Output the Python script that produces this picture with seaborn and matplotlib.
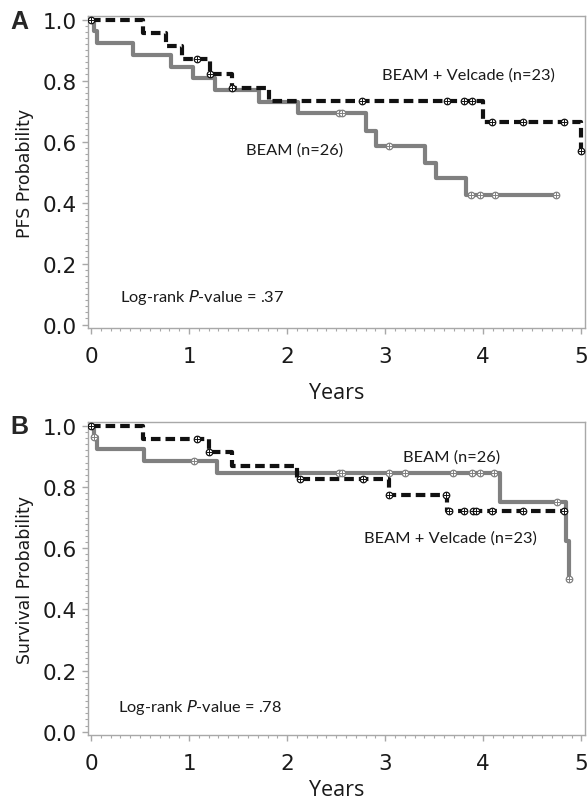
import matplotlib

matplotlib.use("Agg")
import matplotlib.pyplot as plt
import numpy as np
import pandas as pd
import seaborn as sns
from matplotlib.ticker import MultipleLocator

# Panel A: progression-free survival
pfs_beam_times = [0.0, 0.03, 0.06, 0.43, 0.82, 1.04, 1.26, 1.71, 2.11, 2.80, 2.91, 3.41, 3.52, 3.82, 4.74]
pfs_beam_surv = [1.0, 0.962, 0.923, 0.885, 0.846, 0.808, 0.769, 0.731, 0.692, 0.635, 0.587, 0.530, 0.479, 0.425, 0.425]
pfs_beam_censor = [2.53, 2.56, 3.04, 3.87, 3.97, 4.12, 4.74]

pfs_bv_times = [0.0, 0.53, 0.76, 0.93, 1.21, 1.44, 1.82, 4.00, 5.00]
pfs_bv_surv = [1.0, 0.957, 0.913, 0.870, 0.823, 0.777, 0.733, 0.665, 0.568]
pfs_bv_censor = [0.0, 1.08, 1.21, 1.44, 2.76, 3.63, 3.80, 3.89, 4.09, 4.41, 4.82, 5.00]

# Panel B: overall survival
os_beam_times = [0.0, 0.03, 0.06, 0.54, 1.28, 4.17, 4.84, 4.87]
os_beam_surv = [1.0, 0.962, 0.923, 0.885, 0.846, 0.750, 0.625, 0.500]
os_beam_censor = [0.03, 1.05, 2.53, 2.56, 3.04, 3.20, 3.69, 3.89, 3.97, 4.11, 4.75, 4.87]

os_bv_times = [0.0, 0.53, 1.20, 1.44, 2.10, 3.04, 3.63, 4.82]
os_bv_surv = [1.0, 0.957, 0.913, 0.870, 0.826, 0.774, 0.722, 0.722]
os_bv_censor = [0.0, 1.08, 1.20, 2.13, 2.77, 3.04, 3.62, 3.65, 3.80, 3.90, 3.93, 4.09, 4.41, 4.82]

x_ticks = [0, 1, 2, 3, 4, 5]
y_ticks = [0.0, 0.2, 0.4, 0.6, 0.8, 1.0]

GRAY = "#808080"
BLACK = "#111111"
SPINE = "#a8a8a8"
TEXT = "#1a1a1a"


def step_at(times, surv, t):
    idx = np.searchsorted(times, t, side="right") - 1
    return surv[max(idx, 0)]


def draw_curve(ax, times, surv, censor, color, dashed):
    df = pd.DataFrame({"t": times, "s": surv})
    style = (0, (2.3, 1.2)) if dashed else "-"
    sns.lineplot(
        data=df, x="t", y="s", ax=ax, color=color, linewidth=3.0,
        linestyle=style, drawstyle="steps-post", estimator=None, sort=False,
        zorder=3,
    )
    cdf = pd.DataFrame({"t": censor, "s": [step_at(times, surv, c) for c in censor]})
    sns.scatterplot(
        data=cdf, x="t", y="s", ax=ax, marker="o", s=22, facecolor="white",
        edgecolor=color, linewidth=0.9, zorder=4,
    )
    sns.scatterplot(
        data=cdf, x="t", y="s", ax=ax, marker="+", s=14, color=color,
        linewidth=0.7, zorder=5,
    )


def style_axes(ax, ylabel, xlabel_pad):
    ax.set_xlim(-0.03, 5.04)
    ax.set_ylim(-0.012, 1.012)
    ax.set_xticks(x_ticks)
    ax.set_yticks(y_ticks)
    ax.set_yticklabels([f"{v:.1f}" for v in y_ticks])
    ax.xaxis.set_minor_locator(MultipleLocator(0.1))
    ax.yaxis.set_minor_locator(MultipleLocator(0.02))
    ax.tick_params(which="major", length=4, width=1, color=SPINE, labelsize=15.5,
                   labelcolor=TEXT)
    ax.tick_params(axis="x", which="major", pad=9)
    ax.tick_params(axis="y", which="major", pad=4)
    ax.tick_params(which="minor", length=2.2, width=0.8, color=SPINE)
    for side in ["top", "right", "left", "bottom"]:
        ax.spines[side].set_color(SPINE)
        ax.spines[side].set_linewidth(1)
    ax.set_xlabel("Years", fontsize=15.5, labelpad=xlabel_pad, family="Open Sans", color=TEXT)
    ax.set_ylabel(ylabel, fontsize=12.5, labelpad=6, color=TEXT)
    ax.grid(False)


def main() -> None:
    sns.set_theme(style="ticks")
    plt.rcParams["font.family"] = ["DejaVu Sans"]

    fig = plt.figure(figsize=(5.87, 8.03), dpi=100)
    ax_a = fig.add_axes([0.150, 0.590, 0.847, 0.389])
    ax_b = fig.add_axes([0.150, 0.083, 0.847, 0.390])

    draw_curve(ax_a, pfs_beam_times, pfs_beam_surv, pfs_beam_censor, GRAY, False)
    draw_curve(ax_a, pfs_bv_times, pfs_bv_surv, pfs_bv_censor, BLACK, True)
    style_axes(ax_a, "PFS Probability", 11)

    draw_curve(ax_b, os_beam_times, os_beam_surv, os_beam_censor, GRAY, False)
    draw_curve(ax_b, os_bv_times, os_bv_surv, os_bv_censor, BLACK, True)
    style_axes(ax_b, "Survival Probability", 4)

    note_font = "Lato"
    ax_a.text(3.85, 0.82, "BEAM + Velcade (n=23)", fontsize=11.8, family=note_font,
              ha="center", va="center", color=TEXT)
    ax_a.text(2.08, 0.574, "BEAM (n=26)", fontsize=11.8, family=note_font,
              ha="center", va="center", color=TEXT)
    ax_a.text(0.30, 0.092, "Log-rank $\\it{P}$-value = .37", fontsize=11.8, family=note_font,
              ha="left", va="center", color=TEXT)

    ax_b.text(3.68, 0.90, "BEAM (n=26)", fontsize=11.8, family=note_font,
              ha="center", va="center", color=TEXT)
    ax_b.text(3.67, 0.636, "BEAM + Velcade (n=23)", fontsize=11.8, family=note_font,
              ha="center", va="center", color=TEXT)
    ax_b.text(0.28, 0.082, "Log-rank $\\it{P}$-value = .78", fontsize=11.8, family=note_font,
              ha="left", va="center", color=TEXT)

    fig.text(0.018, 0.973, "A", fontsize=18, fontweight="bold", family="Liberation Sans",
             va="center", ha="left")
    fig.text(0.018, 0.468, "B", fontsize=18, fontweight="bold", family="Liberation Sans",
             va="center", ha="left")

    fig.savefig("out.png", dpi=100)
    plt.close(fig)


if __name__ == "__main__":
    main()
